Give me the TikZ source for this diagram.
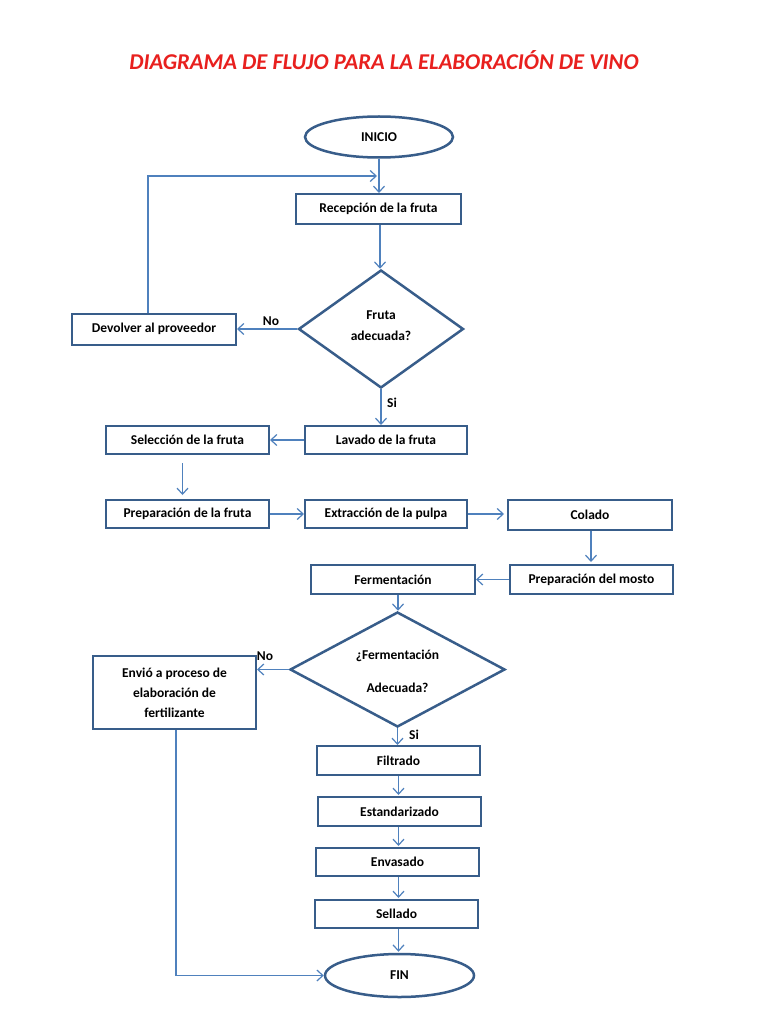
\documentclass[tikz,border=0pt]{standalone}
\usepackage{fontspec}
\setmainfont{Carlito}
\usetikzlibrary{shapes.geometric,arrows.meta}
\definecolor{boxc}{RGB}{56,93,138}
\definecolor{arrc}{RGB}{79,129,189}
\definecolor{titc}{RGB}{232,32,30}
\begin{document}
\begin{tikzpicture}[x=1pt,y=-1pt,
  txt/.style={font=\bfseries\fontsize{13.5}{16}\selectfont},
  box/.style={txt, draw=boxc, line width=2pt, fill=white, minimum width=163pt, minimum height=29pt, inner sep=0pt},
  term/.style={txt, draw=boxc, line width=2.5pt, ellipse, fill=white, minimum width=148pt, minimum height=41pt, inner sep=0pt},
  dec/.style={txt, draw=boxc, line width=2.5pt, diamond, fill=white, inner sep=0pt, align=center},
  arr/.style={draw=arrc, line width=1.2pt, -{Straight Barb[length=6pt,width=11pt,line width=1.2pt]}},
  lab/.style={txt}
]
\useasboundingbox (0,0) rectangle (768,1024);
\fill[white] (0,0) rectangle (768,1024);
\node[text=titc, font=\bfseries\itshape\fontsize{22.6}{26}\selectfont] (title) at (384,60) {DIAGRAMA DE FLUJO PARA LA ELABORACIÓN DE VINO};

\node[term] (ini) at (379,137) {INICIO};
\node[box, minimum width=165pt, minimum height=30pt] (rec) at (378.5,209) {Recepción de la fruta};
\node[dec, minimum width=165pt, minimum height=118pt] (d1) at (381,329) {};
\node[txt, align=center, font=\bfseries\fontsize{13.5}{21}\selectfont] (d1t) at (381,326) {Fruta\\adecuada?};
\node[box, minimum width=164pt, minimum height=31pt] (dev) at (154,329) {Devolver al proveedor};
\node[box, minimum width=162pt, minimum height=28pt] (lav) at (386,440) {Lavado de la fruta};
\node[box, minimum width=163pt, minimum height=28pt] (sel) at (187.5,440) {Selección de la fruta};
\node[box, minimum width=163pt, minimum height=28pt] (prep) at (187.5,514) {Preparación de la fruta};
\node[box, minimum width=162pt, minimum height=28pt] (ext) at (386,514) {Extracción de la pulpa};
\node[box, minimum width=164pt, minimum height=30pt] (col) at (590,515) {Colado};
\node[box, minimum width=163pt, minimum height=29pt] (mos) at (591.5,579.5) {Preparación del mosto};
\node[box, minimum width=164pt, minimum height=29pt] (fer) at (393,579.5) {Fermentación};
\node[dec, minimum width=215pt, minimum height=115pt] (d2) at (397.5,669.5) {};
\node[txt, align=center, font=\bfseries\fontsize{13.5}{33}\selectfont] (d2t) at (397.5,671.5) {¿Fermentación\\Adecuada?};
\node[box, minimum width=163pt, minimum height=73pt, align=center, font=\bfseries\fontsize{13.5}{20}\selectfont] (env) at (174.5,692.5) {Envió a proceso de\\elaboración de\\fertilizante};
\node[box, minimum width=163pt, minimum height=29pt] (fil) at (398.5,760.5) {Filtrado};
\node[box, minimum width=163pt, minimum height=29pt] (est) at (399.5,811.5) {Estandarizado};
\node[box, minimum width=163pt, minimum height=28pt] (eva) at (397.5,862) {Envasado};
\node[box, minimum width=163pt, minimum height=28pt] (sell) at (396.5,914) {Sellado};
\node[term, minimum width=149pt, minimum height=43pt] (fin) at (399.5,975.5) {FIN};

\coordinate (loopend) at (377,176);
\draw[arr] (ini.south) -- (ini.south |- rec.north);
\draw[arr] ([xshift=-6pt]dev.north) |- (loopend);
\draw[arr] ([xshift=1.5pt]rec.south) -- ([xshift=1.5pt]rec.south |- d1.north);
\draw[arr] (d1.west) -- (dev.east);
\node[lab] (no1) at (271,321) {No};
\draw[arr] (d1.south) -- (lav.north -| d1.south);
\node[lab] (si1) at (392,403) {Si};
\draw[arr] (lav.west) -- (sel.east);
\draw[arr, shorten <=8pt, shorten >=4pt] ([xshift=-5pt]sel.south) -- ([xshift=-5pt]prep.north);
\draw[arr] (prep.east) -- (ext.west);
\draw[arr, shorten >=3pt] (ext.east) -- (col.west |- ext.east);
\draw[arr, shorten >=2pt] ([xshift=1pt]col.south) -- ([xshift=1pt]col.south |- mos.north);
\draw[arr] (mos.west) -- (fer.east);
\draw[arr] ([xshift=5pt]fer.south) -- ([xshift=5pt]fer.south |- d2.north);
\draw[arr] (d2.west) -- (env.east |- d2.west);
\node[lab] (no2) at (265,656) {No};
\draw[arr] (d2.south) -- (fil.north -| d2.south);
\node[lab] (si2) at (414,735) {Si};
\draw[arr, shorten >=1pt] (fil.south) -- (est.north -| fil.south);
\draw[arr, shorten >=1pt] (est.south -| fil.south) -- (eva.north -| fil.south);
\draw[arr, shorten >=1pt] (eva.south -| fil.south) -- (sell.north -| fil.south);
\draw[arr, shorten >=1pt] (sell.south -| fil.south) -- (fin.north -| fil.south);
\draw[arr] ([xshift=1.5pt]env.south) |- (fin.west);
\end{tikzpicture}
\end{document}
